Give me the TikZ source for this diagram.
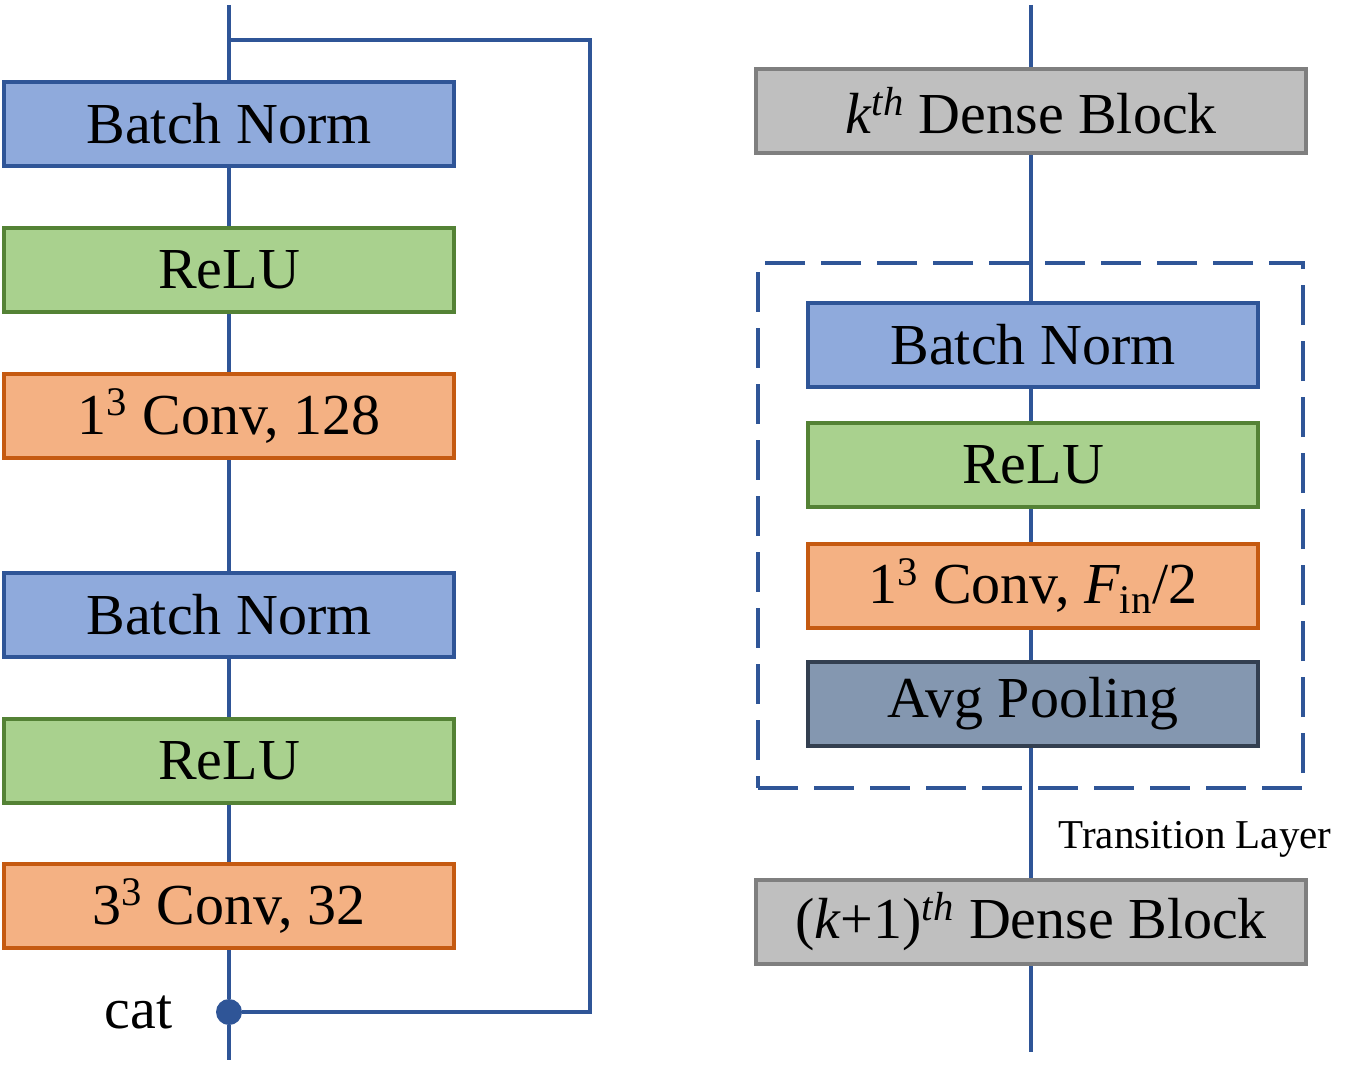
\documentclass[tikz,border=0pt]{standalone}
\usepackage{fontspec}
\setmainfont{Liberation Serif}
\definecolor{bnfill}{HTML}{8FAADC}
\definecolor{bnline}{HTML}{2F5597}
\definecolor{relufill}{HTML}{A9D18E}
\definecolor{reluline}{HTML}{548235}
\definecolor{convfill}{HTML}{F4B183}
\definecolor{convline}{HTML}{C55A11}
\definecolor{densefill}{HTML}{BFBFBF}
\definecolor{denseline}{HTML}{7F7F7F}
\definecolor{poolfill}{HTML}{8497B0}
\definecolor{poolline}{HTML}{333F50}
\begin{document}
\begin{tikzpicture}[x=0.5pt,y=-0.5pt,
    blk/.style={draw,line width=2pt,minimum height=42pt,inner sep=0pt,
        font=\fontsize{29}{34}\selectfont},
    bn/.style={blk,fill=bnfill,draw=bnline,minimum width=225pt},
    relu/.style={blk,fill=relufill,draw=reluline,minimum width=225pt},
    conv/.style={blk,fill=convfill,draw=convline,minimum width=225pt},
    pool/.style={blk,fill=poolfill,draw=poolline,minimum width=225pt},
    dense/.style={blk,fill=densefill,draw=denseline,line width=2.2pt,
        minimum width=275pt},
    link/.style={draw=bnline,line width=2pt},
    ele/.style={fill=bnline,circle,minimum size=13pt,inner sep=0pt},
    trans/.style={draw=bnline,line width=2pt,dash pattern=on 20pt off 8pt,
        minimum width=272.5pt,minimum height=262.5pt,inner sep=0pt}]
    \useasboundingbox (0,0) rectangle (1360,1070);

    % dense layer
    \coordinate (top) at (229,5);
    \coordinate (split) at (229,40);
    \coordinate (turn) at (590,40);
    \coordinate (bot) at (229,1060);
    \node[bn] (bna) at (229,124) {Batch Norm};
    \node[relu] (relua) at (229,270) {ReLU};
    \node[conv] (conva) at (229,416) {1\textsuperscript{3} Conv, 128};
    \node[bn] (bnb) at (229,615) {Batch Norm};
    \node[relu] (relub) at (229,761) {ReLU};
    \node[conv] (convb) at (229,906) {3\textsuperscript{3} Conv, 32};
    \node[ele,label={[font=\fontsize{29}{34}\selectfont,label
        distance=18pt]left:cat}] (cat) at (229,1012) {};

    \draw[link] (top) -- (bna);
    \draw[link] (split) -- (turn) |- (cat);
    \draw[link] (bna) -- (relua);
    \draw[link] (relua) -- (conva);
    \draw[link] (conva) -- (bnb);
    \draw[link] (bnb) -- (relub);
    \draw[link] (relub) -- (convb);
    \draw[link] (convb) -- (cat);
    \draw[link] (cat) -- (bot);

    % transition layer
    \coordinate (rtop) at (1031,5);
    \coordinate (rbot) at (1031,1052);
    \node[trans] (tl) at (1030.5,525.5) {};
    \node[dense] (dk) at (1031,111) {\textit{k}\textsuperscript{\textit{th}} Dense Block};
    \node[bn] (bnc) at (1033,345) {Batch Norm};
    \node[relu] (reluc) at (1033,465) {ReLU};
    \node[conv] (convc) at (1033,586) {1\textsuperscript{3} Conv,
        \textit{F}\textsubscript{in}/2};
    \node[pool] (avg) at (1033,704) {Avg Pooling};
    \node[dense] (dl) at (1031,922) {(\textit{k}+1)\textsuperscript{\textit{th}}
        Dense Block};
    \node[font=\fontsize{20.5}{24}\selectfont] (tllbl) at (1195,839)
        {Transition Layer};

    \draw[link] (rtop) -- (dk);
    \draw[link] (dk) -- (bnc.north -| dk);
    \draw[link] (bnc.south -| dk) -- (reluc.north -| dk);
    \draw[link] (reluc.south -| dk) -- (convc.north -| dk);
    \draw[link] (convc.south -| dk) -- (avg.north -| dk);
    \draw[link] (avg.south -| dk) -- (dl);
    \draw[link] (dl) -- (rbot);
\end{tikzpicture}
\end{document}
